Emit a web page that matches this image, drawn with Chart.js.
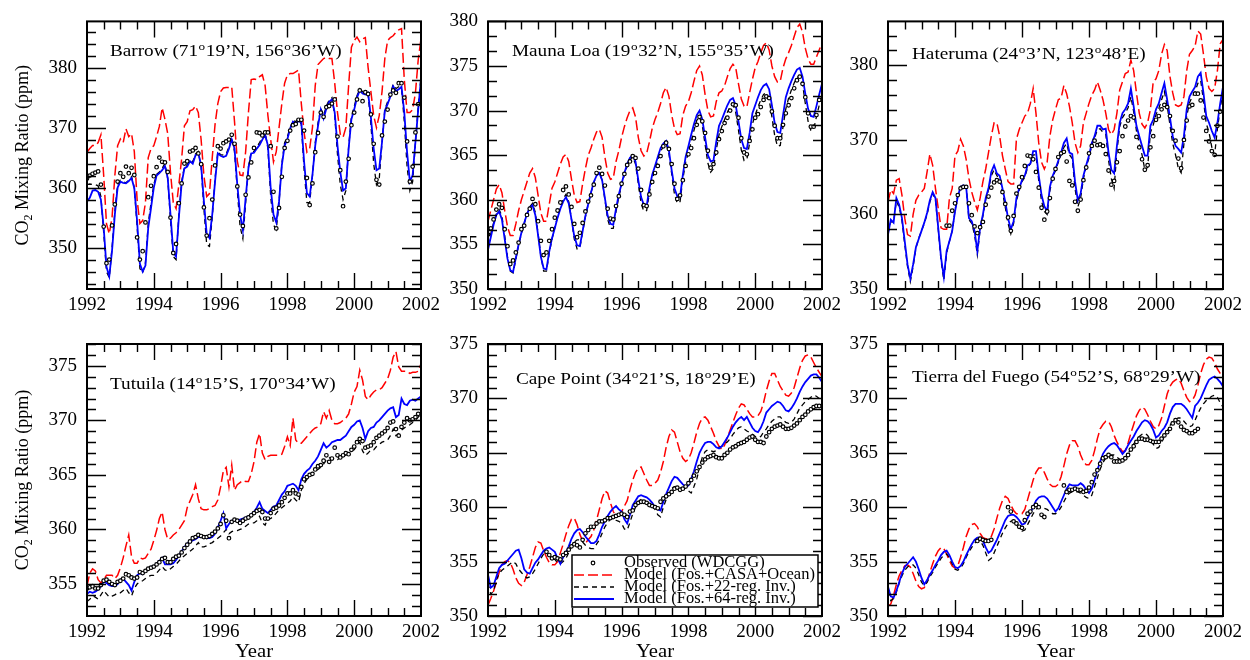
<!DOCTYPE html>
<html>
<head>
<meta charset="utf-8">
<script src="https://cdn.jsdelivr.net/npm/chart.js@4.4.1/dist/chart.umd.min.js"></script>
<style>
  html, body { margin: 0; padding: 0; background: #fff; }
  #wrap { position: relative; width: 1250px; height: 660px; overflow: hidden; }
  #wrap canvas { position: absolute; left: 0; top: 0; }
</style>
</head>
<body>
<div id="wrap">
  <canvas id="c1" width="1250" height="660"></canvas>
  <canvas id="c2" width="1250" height="660"></canvas>
  <canvas id="c3" width="1250" height="660"></canvas>
  <canvas id="c4" width="1250" height="660"></canvas>
  <canvas id="c5" width="1250" height="660"></canvas>
  <canvas id="c6" width="1250" height="660"></canvas>
</div>
<script>
// monthly values, Jan 1992 onwards (model series end with Jan 2002)
const yearTicks = [1992, 1994, 1996, 1998, 2000, 2002];
const seriesNames = ['Observed (WDCGG)', 'Model (Fos.+CASA+Ocean)', 'Model (Fos.+22-reg. Inv.)', 'Model (Fos.+64-reg. Inv.)'];
const stationNames = [
  'Barrow (71^o19’N, 156^o36’W)',
  'Mauna Loa (19^o32’N, 155^o35’W)',
  'Hateruma (24^o3’N, 123^o48’E)',
  'Tutuila (14^o15’S, 170^o34’W)',
  'Cape Point (34^o21’S, 18^o29’E)',
  'Tierra del Fuego (54^o52’S, 68^o29’W)'
];

// ---- Barrow
const brwObs = [
  361.5, 362.0, 362.3, 362.5, 362.7, 360.5, 353.5, 347.4, 348.0, 353.7, 357.2, 361.0,
  362.4, 361.8, 363.5, 362.4, 363.3, 362.1, 351.7, 348.0, 349.4, 354.2, 358.4, 360.3,
  361.9, 363.4, 365.0, 364.3, 364.2, 362.6, 355.0, 349.1, 350.6, 357.4, 360.7, 364.0,
  364.4, 366.0, 366.2, 366.6, 365.7, 363.9, 356.7, 352.0, 354.9, 358.0, 363.7, 366.9,
  366.5, 367.4, 367.7, 368.0, 368.8, 367.3, 360.2, 355.5, 353.6, 358.8, 361.7, 364.2,
  366.6, 369.2, 369.1, 368.7, 369.2, 369.2, 366.9, 359.3, 353.2, 356.6, 361.8, 366.6,
  367.8, 369.5, 370.4, 370.6, 371.3, 371.3, 369.5, 361.6, 357.1, 360.7, 365.9, 369.1,
  372.5, 371.8, 373.4, 373.6, 374.0, 374.7, 368.5, 362.9, 356.9, 361.0, 364.8, 370.4,
  372.5, 374.7, 376.2, 374.4, 375.9, 375.6, 372.2, 367.3, 361.3, 360.5, 368.7, 371.0,
  373.0, 375.5, 376.2, 375.8, 377.4, 377.4, 375.0, 367.7, 361.0, 363.5, 369.2, 373.9
];
const brwCasa = [
  365.9, 366.5, 367.0, 367.0, 367.5, 368.8, 362.0, 354.0, 352.3, 355.0, 362.0, 367.0,
  368.1, 367.5, 369.8, 368.5, 369.0, 366.0, 358.0, 354.0, 354.5, 357.5, 365.0, 366.5,
  367.0, 368.5, 370.2, 373.3, 371.4, 369.0, 362.5, 357.5, 356.5, 360.5, 364.8, 370.3,
  371.0, 372.8, 373.0, 373.6, 372.5, 368.0, 362.0, 358.5, 359.0, 365.0, 370.5, 374.0,
  376.0, 376.6, 376.7, 376.7, 376.8, 371.0, 364.4, 362.1, 362.0, 366.0, 372.5, 378.0,
  378.1, 378.0, 378.5, 378.8, 377.0, 372.0, 368.0, 364.3, 366.0, 370.0, 374.0, 377.4,
  378.8, 379.0, 379.0, 379.3, 379.6, 374.0, 369.2, 365.9, 366.5, 370.0, 377.0, 380.5,
  381.0, 381.5, 381.7, 381.5, 381.5, 377.4, 372.5, 368.9, 368.4, 370.0, 377.0, 383.4,
  384.5, 385.1, 384.3, 384.8, 385.0, 380.0, 376.0, 372.0, 370.0, 372.0, 376.0, 381.5,
  384.5, 385.0, 385.3, 385.9, 386.3, 386.5, 378.0, 372.5, 372.5, 373.0, 375.8, 381.3,
  384.8
];
const brwInv22 = [
  360.5, 360.6, 360.5, 360.5, 360.3, 358.5, 352.5, 346.0, 345.0, 350.0, 356.0, 360.5,
  361.2, 361.0, 360.8, 361.2, 361.8, 360.0, 353.5, 346.5, 345.8, 347.5, 354.0, 357.5,
  360.5, 362.2, 362.6, 363.2, 364.0, 361.5, 354.5, 348.5, 348.0, 355.5, 361.0, 363.5,
  363.8, 364.6, 364.3, 365.6, 366.0, 363.5, 356.5, 350.5, 350.2, 355.0, 361.5, 366.0,
  365.5, 365.4, 365.6, 366.8, 368.3, 366.0, 359.5, 353.5, 351.5, 357.5, 363.5, 366.0,
  366.0, 366.8, 367.5, 368.4, 369.2, 366.5, 358.5, 353.8, 353.0, 357.5, 364.0, 367.5,
  368.5, 370.0, 371.2, 371.0, 371.5, 370.5, 363.0, 357.5, 357.5, 362.0, 367.5, 370.8,
  373.2, 372.0, 373.6, 374.6, 375.0, 372.0, 365.5, 360.5, 358.0, 359.5, 366.8, 371.8,
  373.5, 375.3, 376.5, 376.0, 375.8, 375.5, 370.5, 364.0, 360.5, 361.5, 367.5, 373.0,
  374.3, 375.6, 377.2, 376.5, 376.8, 376.5, 371.0, 363.5, 359.5, 361.0, 367.5, 373.5,
  378.5
];
const brwInv64 = [
  357.7, 358.3, 359.5, 359.6, 359.3, 358.0, 353.3, 346.8, 345.2, 349.5, 355.5, 360.0,
  361.0, 360.8, 360.7, 361.1, 361.6, 359.9, 354.4, 347.3, 346.0, 347.0, 353.3, 356.6,
  360.0, 362.0, 362.4, 362.9, 363.6, 361.6, 355.5, 349.2, 348.5, 355.0, 360.7, 363.2,
  363.5, 364.4, 364.0, 365.4, 365.7, 363.7, 357.7, 352.3, 351.6, 355.5, 361.0, 365.7,
  365.3, 365.1, 365.3, 366.5, 368.0, 366.5, 360.5, 355.5, 352.9, 358.3, 363.2, 365.7,
  365.8, 366.5, 367.1, 368.0, 368.8, 367.0, 359.9, 355.5, 354.2, 357.7, 363.7, 367.0,
  368.1, 369.8, 371.0, 370.7, 371.1, 370.9, 364.3, 359.1, 358.5, 362.1, 367.0, 370.3,
  373.0, 371.5, 373.2, 374.3, 374.7, 372.5, 367.0, 362.6, 359.5, 359.9, 366.5, 371.4,
  373.0, 375.0, 376.2, 375.7, 375.5, 375.8, 371.7, 366.5, 362.9, 363.2, 367.6, 372.8,
  373.9, 375.2, 376.9, 376.1, 376.4, 376.8, 372.5, 365.9, 361.0, 362.1, 367.6, 373.0,
  378.1
];

// ---- Mauna Loa
const mloObs = [
  356.1, 356.8, 357.8, 358.9, 359.5, 359.1, 356.7, 354.8, 352.8, 353.2, 354.1, 355.2,
  356.7, 357.1, 358.3, 359.0, 360.1, 359.5, 357.6, 355.4, 353.8, 354.1, 355.4, 356.7,
  358.0, 358.8, 359.7, 361.1, 361.5, 360.6, 359.2, 357.3, 355.8, 356.3, 357.4, 358.7,
  359.8, 360.5, 361.7, 363.0, 363.6, 362.9, 361.6, 359.0, 357.9, 357.8, 359.3, 360.4,
  361.8, 362.9, 363.9, 364.3, 364.9, 364.7, 363.5, 361.1, 359.4, 359.3, 360.6, 362.0,
  363.0, 363.8, 364.9, 366.0, 366.4, 365.7, 364.0, 361.8, 360.1, 360.5, 362.2, 363.8,
  365.1, 365.8, 366.9, 368.4, 369.3, 368.8, 367.5, 365.5, 363.6, 364.0, 365.3, 366.8,
  367.7, 368.6, 369.2, 370.0, 370.7, 370.6, 369.2, 366.9, 365.3, 365.1, 366.6, 367.9,
  369.2, 369.6, 370.4, 371.2, 371.6, 371.4, 369.9, 368.3, 366.9, 366.9, 368.4, 369.7,
  370.6, 371.4, 372.5, 373.4, 373.8, 373.0, 371.5, 369.7, 368.2, 368.2, 369.5, 371.2
];
const mloCasa = [
  357.6, 358.8, 360.0, 361.2, 361.7, 360.8, 358.8, 357.0, 356.0, 356.0, 357.3, 358.8,
  360.0, 361.0, 362.0, 363.0, 363.5, 362.5, 360.5, 358.5, 357.6, 357.6, 359.5, 361.3,
  362.0, 363.0, 364.0, 364.8, 365.1, 364.3, 362.3, 360.5, 359.7, 359.8, 361.8, 363.5,
  365.0, 365.8, 366.8, 367.6, 367.9, 367.0, 364.8, 363.0, 362.3, 362.4, 364.3, 365.5,
  367.0, 368.2, 369.2, 370.0, 370.3, 369.3, 367.0, 365.5, 364.9, 365.2, 366.5, 368.0,
  369.0, 369.8, 370.8, 372.0, 372.6, 371.6, 369.5, 368.0, 367.3, 367.4, 369.5, 370.5,
  371.0, 372.0, 373.3, 374.5, 375.0, 374.0, 371.8, 370.0, 369.3, 369.4, 371.0, 372.0,
  372.2, 372.8, 373.8, 374.7, 375.2, 374.8, 373.0, 371.3, 370.5, 370.4, 372.0, 373.5,
  374.8, 375.5, 376.5, 377.3, 377.6, 376.8, 375.0, 373.8, 373.2, 373.3, 374.8, 375.8,
  376.5, 377.3, 378.3, 379.3, 379.7, 378.8, 377.0, 375.8, 375.2, 375.2, 376.0, 376.8,
  377.6
];
const mloInv22 = [
  355.0, 356.2, 357.4, 358.4, 358.9, 358.2, 356.0, 353.6, 352.0, 351.8, 353.3, 354.9,
  356.2, 357.3, 358.4, 359.2, 359.6, 358.6, 356.2, 353.7, 352.0, 352.0, 354.0, 355.6,
  356.9, 358.1, 359.2, 360.1, 360.6, 359.8, 357.8, 355.6, 354.5, 354.6, 356.4, 358.1,
  359.5, 360.8, 361.9, 362.7, 363.1, 362.2, 360.0, 357.8, 356.8, 356.8, 358.7, 360.3,
  361.6, 362.8, 363.8, 364.5, 364.8, 364.0, 361.8, 359.6, 358.7, 358.8, 360.8, 362.3,
  363.4, 364.4, 365.4, 366.0, 366.3, 365.2, 362.9, 360.6, 359.6, 359.8, 362.3, 364.2,
  365.3, 366.5, 367.8, 368.9, 369.3, 368.3, 366.2, 364.1, 363.1, 363.5, 365.6, 367.3,
  368.2, 369.0, 369.8, 370.4, 370.7, 369.8, 367.8, 365.6, 364.4, 364.5, 366.4, 368.5,
  369.5, 370.4, 371.2, 371.8, 372.0, 371.3, 369.3, 367.2, 366.0, 366.1, 368.2, 370.2,
  371.4, 372.3, 373.1, 373.7, 373.9, 373.0, 370.8, 368.8, 367.8, 367.9, 369.3, 370.6,
  371.8
];
const mloInv64 = [
  354.4, 355.8, 357.2, 358.3, 358.7, 357.8, 355.6, 353.4, 352.1, 351.9, 353.5, 355.0,
  356.3, 357.4, 358.4, 359.1, 359.4, 358.3, 356.0, 353.6, 352.3, 352.2, 354.2, 355.7,
  356.8, 358.0, 359.0, 359.8, 360.3, 359.6, 357.8, 355.9, 354.9, 354.8, 356.5, 358.2,
  359.5, 360.8, 362.0, 362.7, 363.0, 362.2, 360.2, 358.2, 357.3, 357.2, 359.0, 360.6,
  361.8, 363.0, 364.0, 364.7, 365.0, 364.3, 362.2, 360.3, 359.4, 359.3, 361.3, 362.8,
  363.8, 364.8, 365.8, 366.3, 366.6, 365.5, 363.3, 361.3, 360.4, 360.3, 362.8, 364.8,
  366.0, 367.3, 368.5, 369.5, 370.0, 369.0, 367.0, 365.0, 364.3, 364.4, 366.5, 368.3,
  369.0, 369.8, 370.6, 371.2, 371.4, 370.6, 368.8, 366.8, 365.8, 365.7, 367.5, 369.7,
  370.6, 371.5, 372.3, 372.8, 373.0, 372.4, 370.6, 368.6, 367.6, 367.5, 369.5, 371.5,
  372.5, 373.3, 374.0, 374.6, 374.8, 373.8, 371.9, 370.2, 369.4, 369.3, 370.5, 371.8,
  373.0
];

// ---- Hateruma
const hatObs = [
  null, null, null, null, null, null, null, null, null, null, null, null,
  null, null, null, null, null, null, null, null, null, 358.5, 358.5, 360.5,
  361.5, 362.6, 363.5, 363.7, 363.7, 361.5, 359.9, 358.4, 357.5, 358.3, 359.0, 361.3,
  362.4, 363.6, 364.3, 364.6, 364.4, 363.0, 361.4, 359.6, 357.8, 359.8, 362.8, 363.7,
  365.0, 366.5, 367.9, 367.8, 367.4, 365.7, 363.6, 360.9, 359.3, 360.4, 362.2, 364.8,
  366.1, 367.7, 368.2, 368.4, 367.1, 364.5, 363.9, 361.7, 360.5, 362.0, 364.6, 366.3,
  368.2, 369.2, 369.9, 369.3, 369.4, 369.2, 368.1, 365.9, 364.0, 364.5, 367.0, 368.5,
  370.5, 371.8, 372.6, 373.2, 373.0, 370.4, 369.0, 367.4, 366.0, 366.6, 369.0, 370.5,
  372.7, 373.2, 374.1, 374.7, 374.4, 373.2, 371.2, 369.9, 367.5, 366.2, 370.0, 372.6,
  374.5, 374.7, 376.2, 376.2, 375.3, 373.0, 371.2, 369.8, 368.5, 368.0, 371.9, 373.8
];
const hatCasa = [
  361.7, 363.3, 362.8, 364.6, 364.8, 362.6, 359.5, 357.3, 357.1, 360.0, 361.9, 362.6,
  363.0, 363.5, 365.7, 368.1, 366.6, 363.5, 360.8, 358.2, 358.0, 358.0, 362.2, 363.5,
  367.9, 368.5, 370.1, 369.2, 367.4, 364.8, 363.0, 361.7, 360.6, 362.2, 364.4, 366.1,
  368.3, 370.5, 372.3, 372.3, 370.5, 367.9, 366.1, 364.4, 364.1, 364.1, 370.1, 371.4,
  372.3, 373.2, 373.6, 374.9, 376.9, 373.6, 369.6, 367.0, 366.1, 367.0, 370.5, 372.7,
  374.1, 375.4, 375.6, 377.3, 376.2, 374.5, 372.3, 369.6, 368.3, 369.2, 372.3, 373.6,
  374.9, 376.0, 376.7, 377.8, 376.7, 375.4, 373.6, 371.4, 370.7, 371.4, 373.6, 376.7,
  377.8, 378.9, 379.1, 380.7, 379.3, 376.3, 373.6, 372.1, 371.6, 372.3, 374.1, 377.8,
  378.2, 379.3, 381.5, 382.8, 382.0, 378.5, 376.3, 374.7, 374.5, 374.7, 375.8, 379.3,
  381.5, 382.0, 382.6, 384.6, 384.2, 381.5, 378.5, 376.9, 376.5, 376.9, 379.3, 382.9,
  383.5
];
const hatInv22 = [
  357.5, 359.0, 359.0, 361.8, 361.0, 359.2, 356.0, 353.0, 351.0, 353.0, 355.5, 356.8,
  357.8, 358.8, 360.0, 361.7, 362.8, 362.0, 358.0, 353.8, 351.2, 354.8, 356.4, 357.8,
  360.5, 362.6, 363.8, 364.0, 363.8, 359.3, 358.8, 357.3, 354.6, 358.0, 359.8, 362.0,
  363.3, 365.2, 366.0, 365.2, 364.8, 363.0, 361.0, 358.8, 357.4, 358.8, 361.8, 363.2,
  364.4, 365.0, 366.3, 366.8, 368.0, 368.0, 364.5, 361.8, 360.4, 360.0, 363.2, 365.0,
  365.9, 367.0, 368.0, 369.0, 369.5, 368.0, 367.5, 363.5, 361.0, 362.2, 364.8, 366.4,
  367.6, 369.3, 370.2, 371.4, 371.5, 371.0, 370.8, 367.3, 364.8, 363.5, 368.5, 371.8,
  373.0, 373.6, 374.3, 375.8, 373.8, 371.2, 369.5, 368.0, 366.0, 366.3, 371.0, 372.0,
  373.4, 374.2, 375.4, 376.5, 374.6, 372.0, 369.5, 368.0, 366.2, 365.6, 369.5, 373.2,
  375.0, 375.8, 376.5, 377.6, 378.0, 375.3, 372.2, 371.0, 369.0, 368.0, 371.5, 374.2,
  376.5
];
const hatInv64 = [
  357.3, 359.3, 358.9, 362.2, 361.3, 359.5, 356.4, 353.3, 351.4, 353.3, 355.6, 356.7,
  357.8, 358.9, 360.2, 361.9, 363.0, 362.2, 358.2, 354.2, 351.6, 355.1, 356.4, 357.8,
  360.4, 362.4, 363.7, 363.9, 363.7, 359.5, 359.1, 357.8, 355.1, 358.2, 360.0, 362.2,
  363.5, 365.7, 366.6, 365.5, 365.2, 363.5, 361.7, 359.5, 358.0, 359.1, 362.2, 363.5,
  364.6, 365.2, 366.6, 366.8, 368.5, 368.5, 365.2, 362.6, 361.1, 360.4, 363.7, 365.2,
  366.1, 367.2, 368.3, 369.6, 370.2, 368.3, 368.1, 364.4, 361.9, 362.8, 365.2, 366.6,
  367.9, 369.6, 370.5, 371.9, 371.9, 371.4, 371.5, 368.3, 366.0, 365.5, 369.2, 372.3,
  373.6, 374.1, 374.9, 376.9, 374.5, 371.9, 370.5, 369.2, 367.9, 367.9, 371.9, 372.7,
  374.1, 374.9, 376.3, 377.6, 375.4, 373.0, 370.5, 369.2, 368.8, 368.3, 370.5, 374.1,
  375.8, 376.5, 377.1, 378.5, 379.0, 376.3, 373.2, 372.3, 371.2, 370.3, 372.3, 374.9,
  377.1
];

// ---- Tutuila
const smoObs = [
  354.6, 354.7, 354.8, 354.6, 354.6, 354.9, 355.3, 355.4, 355.2, 355.0, 354.9, 355.2,
  355.3, 355.5, 355.9, 355.8, 355.6, 355.5, 355.6, 356.1, 356.0, 356.2, 356.4, 356.5,
  356.6, 356.8, 357.0, 357.3, 357.4, 357.0, 357.0, 357.3, 357.5, 357.6, 357.9, 358.3,
  358.6, 358.9, 359.2, 359.3, 359.5, 359.4, 359.3, 359.3, 359.4, 359.6, 359.8, 360.1,
  360.5, 361.3, 360.8, 359.2, 360.7, 360.9, 360.8, 360.6, 360.8, 361.0, 361.1, 361.3,
  361.5, 361.7, 361.8, 361.6, 361.0, 361.0, 361.5, 361.9, 362.0, 362.2, 362.5, 362.9,
  363.3, 363.3, 363.6, 363.3, 363.2, 363.9, 364.6, 364.8, 365.0, 365.1, 365.5, 365.8,
  365.9, 366.3, 366.8, 366.2, 366.5, 367.5, 366.8, 366.6, 366.8, 367.0, 366.9, 367.3,
  367.6, 368.0, 368.3, 368.1, 367.5, 367.6, 367.7, 368.0, 368.4, 368.6, 368.8, 369.0,
  369.3, 369.8, 369.9, 369.2, 368.6, 369.4, 369.8, 370.2, 370.0, 370.1, 370.3, 370.6
];
const smoCasa = [
  354.8, 356.0, 356.4, 356.2, 355.4, 355.1, 355.4, 355.8, 355.8, 355.8, 355.5, 355.8,
  356.5, 357.4, 358.5, 359.5, 357.5, 356.9, 356.9, 357.4, 357.3, 357.4, 357.8, 358.2,
  359.0, 359.9, 361.0, 361.6, 360.0, 359.1, 359.2, 359.5, 359.7, 360.0, 360.4, 360.8,
  362.0, 362.6, 363.2, 364.1, 362.8, 361.9, 361.8, 361.8, 361.9, 362.1, 362.2, 362.7,
  363.9, 365.4, 365.7, 363.9, 365.9, 363.6, 364.1, 364.3, 364.5, 364.4, 364.4, 365.1,
  366.2, 368.0, 368.8, 367.0, 366.4, 366.7, 366.8, 366.8, 366.8, 366.8, 366.9, 367.6,
  368.5, 367.7, 370.2, 368.2, 367.9, 367.9, 368.2, 368.5, 368.8, 369.1, 369.3, 369.4,
  369.7, 370.8, 370.2, 370.9, 370.0, 369.7, 369.7, 369.8, 370.0, 370.2, 370.6, 371.5,
  372.6, 373.1, 374.6, 373.7, 372.2, 371.9, 372.3, 372.6, 372.8, 372.8, 373.0, 373.4,
  373.8, 374.6, 375.8, 376.3, 374.9, 374.5, 374.5, 374.5, 374.3, 374.4, 374.4, 374.5,
  375.2
];
const smoInv22 = [
  353.4, 353.6, 353.9, 353.8, 353.6, 354.0, 354.4, 354.1, 353.8, 353.9, 354.0, 354.2,
  354.2, 354.4, 354.6, 354.2, 353.9, 354.6, 355.0, 355.2, 355.3, 355.5, 355.7, 355.8,
  355.8, 356.0, 356.3, 356.6, 356.3, 356.2, 356.4, 356.6, 356.8, 357.1, 357.4, 357.6,
  357.8, 358.0, 358.2, 358.5, 358.8, 358.4, 358.4, 358.5, 358.7, 358.8, 359.0, 359.2,
  359.4, 359.7, 360.0, 359.6, 359.8, 359.9, 359.9, 360.0, 360.1, 360.3, 360.5, 360.6,
  360.6, 360.8, 361.2, 360.6, 360.4, 361.0, 361.0, 361.2, 361.5, 361.8, 362.0, 362.2,
  362.4, 362.6, 363.0, 362.7, 362.5, 363.6, 364.2, 364.6, 365.0, 365.2, 365.4, 365.5,
  365.7, 366.0, 366.4, 366.6, 366.4, 366.4, 366.4, 366.6, 366.7, 366.8, 367.0, 367.2,
  367.3, 367.7, 368.0, 367.2, 366.8, 367.0, 367.3, 367.3, 367.6, 367.8, 368.0, 368.1,
  368.2, 368.6, 369.2, 368.6, 368.8, 369.1, 369.3, 369.5, 369.6, 369.8, 370.0, 370.3,
  370.6
];
const smoInv64 = [
  354.1, 354.3, 354.2, 354.3, 354.5, 354.8, 355.2, 355.1, 354.9, 354.8, 354.8, 355.0,
  355.4, 355.5, 355.2, 354.9, 354.4, 355.2, 355.8, 356.0, 355.9, 356.2, 356.4, 356.6,
  356.6, 356.9, 357.1, 357.4, 356.8, 356.8, 356.8, 356.9, 357.2, 357.6, 358.0, 358.4,
  358.7, 358.9, 359.0, 359.1, 359.3, 359.3, 359.3, 359.2, 359.2, 359.3, 359.6, 360.2,
  360.8, 361.5, 360.1, 360.5, 360.8, 360.9, 360.8, 360.9, 361.0, 361.1, 361.2, 361.4,
  361.6, 362.0, 362.5, 361.9, 361.7, 361.5, 361.8, 362.1, 362.2, 362.7, 363.2, 363.5,
  364.0, 364.1, 364.2, 364.0, 363.6, 364.6, 365.1, 365.4, 365.6, 366.0, 366.3, 366.7,
  367.3, 367.9, 367.5, 367.7, 368.0, 368.1, 368.2, 368.2, 368.4, 368.6, 369.0, 369.4,
  369.6, 369.9, 370.0, 369.3, 368.3, 369.0, 369.3, 369.4, 369.8, 370.0, 370.3, 370.6,
  370.9, 371.1, 371.2, 370.3, 370.5, 372.0, 371.5, 371.4, 371.8, 371.9, 371.8, 372.0,
  372.2
];

// ---- Cape Point
const cptObs = [
  null, null, null, null, null, null, null, null, null, null, null, null,
  null, null, null, null, null, null, null, null, null, 355.9, 355.6, 355.3,
  355.4, 355.3, 355.2, 355.6, 355.8, 356.1, 356.4, 356.6, 356.5, 356.3, 357.0, 357.6,
  357.9, 358.2, 358.2, 358.5, 358.7, 358.7, 358.8, 359.0, 359.0, 359.1, 359.2, 359.3,
  359.4, 359.3, 359.1, 359.6, 359.7, 360.2, 360.4, 360.5, 360.5, 360.4, 360.2, 360.1,
  360.0, 359.9, 360.5, 360.8, 361.0, 361.2, 361.4, 361.7, 361.8, 361.6, 361.7, 361.9,
  362.2, 362.5, 362.9, 363.3, 363.7, 364.1, 364.4, 364.6, 364.7, 364.8, 364.6, 364.5,
  364.5, 364.8, 365.0, 365.3, 365.5, 365.6, 365.8, 365.9, 366.0, 366.2, 366.4, 366.5,
  366.2, 366.0, 366.0, 365.9, 366.5, 366.9, 367.2, 367.4, 367.5, 367.6, 367.4, 367.2,
  367.2, 367.3, 367.5, 367.7, 368.0, 368.3, 368.5, 368.8, 369.0, 369.2, 369.3, 369.3
];
const cptCasa = [
  351.0, 351.6, 352.3, 353.1, 354.0, 354.7, 355.0, 355.1, 354.9, 354.3, 353.5, 353.0,
  352.8, 353.1, 353.8, 354.5, 355.4, 356.3, 356.8, 356.7, 356.0, 355.4, 354.9, 354.7,
  354.7, 355.0, 355.8, 356.6, 357.5, 358.3, 358.9, 359.0, 358.4, 357.5, 356.9, 356.7,
  357.0, 357.3, 357.9, 358.8, 359.8, 360.8, 361.5, 361.3, 360.4, 359.6, 359.2, 359.2,
  359.6, 360.1, 360.6, 361.6, 362.5, 363.2, 363.6, 363.7, 363.1, 362.5, 362.0, 362.0,
  362.2, 362.5, 363.2, 364.2, 365.5, 366.5, 367.1, 366.9, 366.0, 365.1, 364.5, 364.2,
  364.4, 365.0, 365.9, 366.9, 367.7, 368.2, 368.3, 368.0, 367.4, 366.8, 366.1, 365.6,
  365.3, 365.7, 366.4, 367.1, 367.8, 368.5, 369.1, 369.5, 369.4, 369.0, 368.6, 368.3,
  368.3, 368.4, 368.8, 369.6, 370.7, 371.6, 372.3, 372.3, 371.7, 371.1, 370.7, 370.3,
  370.2, 370.5, 371.0, 371.9, 372.8, 373.5, 373.9, 374.0, 373.8, 373.3, 372.8, 372.4,
  372.0
];
const cptInv22 = [
  353.0, 352.0, 352.3, 353.3, 353.9, 354.2, 354.4, 354.6, 354.8, 355.0, 354.8, 354.3,
  354.0, 353.7, 353.5, 353.6, 353.9, 354.3, 354.8, 355.3, 355.7, 355.9, 355.6, 355.3,
  355.2, 354.9, 354.8, 355.0, 355.3, 355.8, 356.4, 356.8, 357.0, 357.0, 356.8, 356.5,
  356.3, 356.2, 356.2, 356.6, 357.0, 357.6, 358.2, 358.6, 358.9, 359.0, 358.8, 358.7,
  358.5, 358.0, 357.9, 358.6, 359.4, 360.0, 360.5, 360.7, 360.6, 360.5, 360.3, 360.1,
  359.8, 359.3, 359.1, 360.0, 360.7, 361.2, 361.7, 361.9, 361.9, 361.8, 361.7, 361.6,
  361.5, 361.3, 361.9, 362.6, 363.6, 364.6, 365.1, 365.3, 365.2, 365.1, 365.2, 365.5,
  365.6, 365.8, 366.0, 366.3, 366.7, 367.0, 367.3, 367.4, 367.2, 367.0, 366.9, 366.7,
  366.5, 366.4, 366.5, 366.9, 367.2, 367.6, 367.9, 368.1, 368.3, 368.3, 368.0, 367.8,
  367.7, 367.8, 368.1, 368.6, 369.1, 369.4, 369.7, 369.9, 370.1, 370.3, 370.2, 370.0,
  369.9
];
const cptInv64 = [
  353.8, 352.6, 352.8, 353.6, 354.4, 354.7, 354.8, 355.1, 355.4, 355.7, 356.0, 356.1,
  355.3, 354.3, 354.0, 353.9, 354.4, 354.9, 355.2, 355.6, 356.0, 356.2, 356.3, 356.1,
  355.9, 355.3, 354.8, 355.4, 355.8, 356.4, 357.1, 357.6, 357.9, 358.0, 357.7, 357.3,
  357.0, 356.7, 356.7, 356.9, 357.5, 358.2, 358.7, 359.2, 359.6, 359.9, 360.1, 359.8,
  359.6, 358.9, 358.5, 359.3, 360.2, 360.6, 361.0, 361.1, 361.0, 360.9, 360.7, 360.4,
  360.0, 359.8, 359.7, 360.5, 361.2, 361.8, 362.4, 362.8, 362.7, 362.4, 362.1, 361.9,
  362.0, 362.6, 363.3, 364.2, 365.0, 365.5, 365.9, 366.0, 366.0, 365.8, 365.5, 365.4,
  365.6, 366.0, 366.4, 366.9, 367.4, 367.8, 368.1, 368.3, 368.0, 368.3, 367.8, 367.3,
  367.0, 366.9, 367.3, 367.9, 368.7, 369.0, 369.3, 369.5, 369.7, 369.6, 369.3, 368.9,
  368.8, 369.1, 369.5, 370.0, 370.6, 371.1, 371.5, 371.8, 372.1, 372.2, 372.2, 371.9,
  371.5
];

// ---- Tierra del Fuego
const tdfObs = [
  null, null, null, null, null, null, null, null, null, null, null, null,
  null, null, null, null, null, null, null, null, null, null, null, null,
  null, null, null, null, null, null, null, null, 356.9, 357.1, 357.0, 356.9,
  356.9, 357.0, null, null, null, null, null, 360.0, 359.6, 358.7, 358.5, 358.2,
  358.1, 358.8, 359.4, 359.6, 360.0, 360.2, 360.0, 359.3, 359.1, null, null, null,
  null, null, null, 362.0, 361.4, 361.6, 361.6, 361.7, 361.6, 361.6, 361.4, 361.5,
  361.8, 362.3, 363.0, 363.4, 364.0, 364.5, 364.6, 364.8, 364.6, 364.2, 364.2, 364.2,
  364.3, 364.5, 364.8, 365.3, 365.6, 366.0, 366.3, 366.3, 366.2, 366.2, 366.1, 366.0,
  366.0, 366.0, 366.3, 366.6, 366.9, 367.2, 367.7, 368.0, 367.8, 367.4, 367.1, 367.0,
  366.8, 366.8, 367.0, 367.2, null, null, null, null, null, null, null, null
];
const tdfCasa = [
  350.9, 351.1, 351.9, 352.9, 353.7, 354.2, 354.6, 354.7, 354.5, 353.9, 353.2, 352.7,
  352.5, 352.6, 353.2, 354.0, 354.8, 355.5, 356.0, 356.3, 356.2, 355.7, 355.1, 354.6,
  354.4, 354.6, 355.4, 356.3, 357.3, 358.0, 358.4, 358.5, 358.2, 357.6, 357.2, 357.1,
  357.1, 357.3, 358.0, 359.0, 359.9, 360.6, 361.0, 360.8, 360.2, 359.7, 359.4, 359.4,
  359.4, 359.8, 360.7, 361.6, 362.5, 363.2, 363.6, 363.6, 363.2, 362.6, 362.1, 361.9,
  361.9, 362.1, 362.8, 363.8, 364.9, 365.7, 366.1, 366.1, 365.6, 364.8, 364.2, 363.9,
  363.9, 364.3, 365.2, 366.3, 367.2, 367.6, 367.9, 367.9, 367.4, 366.6, 366.0, 365.5,
  365.1, 365.2, 365.9, 366.8, 367.6, 368.4, 368.9, 369.2, 369.0, 368.5, 367.9, 367.4,
  367.2, 367.5, 368.2, 369.3, 370.4, 371.1, 371.5, 371.7, 371.8, 371.4, 370.7, 370.1,
  369.7, 369.8, 370.3, 371.2, 372.3, 373.1, 373.6, 373.8, 373.7, 373.3, 372.7, 372.3,
  372.0
];
const tdfInv22 = [
  352.3, 351.4, 351.6, 352.2, 353.0, 353.7, 354.2, 354.5, 354.7, 354.7, 354.4, 353.8,
  353.1, 352.8, 353.1, 353.6, 354.0, 354.5, 354.9, 355.3, 355.6, 355.7, 355.4, 354.8,
  354.3, 354.2, 354.4, 354.8, 355.4, 355.9, 356.3, 356.7, 356.9, 356.9, 356.5, 355.8,
  355.1, 355.3, 355.8, 356.4, 357.0, 357.6, 358.1, 358.5, 358.7, 358.8, 358.6, 358.2,
  357.8, 357.9, 358.4, 358.9, 359.4, 359.8, 360.0, 360.0, 359.9, 359.8, 359.6, 359.4,
  359.4, 359.6, 360.0, 360.5, 361.0, 361.3, 361.4, 361.4, 361.4, 361.3, 361.1, 360.9,
  360.8, 361.1, 361.9, 362.7, 363.5, 364.1, 364.5, 364.7, 364.8, 364.8, 364.6, 364.4,
  364.2, 364.4, 364.9, 365.4, 365.8, 366.2, 366.5, 366.7, 366.8, 366.6, 366.2, 365.8,
  365.4, 365.5, 366.0, 366.5, 367.0, 367.5, 367.9, 368.1, 368.2, 368.2, 367.9, 367.6,
  367.4, 367.5, 368.0, 368.6, 369.1, 369.5, 369.8, 370.0, 370.2, 370.3, 370.1, 369.6,
  369.2
];
const tdfInv64 = [
  352.7, 351.8, 351.7, 352.3, 353.1, 353.9, 354.5, 354.8, 355.1, 355.4, 355.0, 354.3,
  353.5, 352.9, 353.3, 353.8, 354.2, 354.7, 355.1, 355.6, 355.9, 356.0, 355.6, 355.0,
  354.5, 354.4, 354.6, 355.0, 355.6, 356.1, 356.6, 357.0, 357.2, 357.2, 356.9, 356.3,
  355.8, 356.0, 356.5, 357.0, 357.6, 358.2, 358.8, 359.2, 359.3, 359.3, 359.1, 358.8,
  358.4, 358.5, 359.0, 359.5, 360.0, 360.6, 360.9, 361.0, 361.0, 360.8, 360.4, 360.0,
  359.6, 359.9, 360.5, 361.1, 361.7, 362.1, 362.0, 362.0, 362.0, 362.2, 362.0, 361.6,
  361.3, 361.7, 362.5, 363.4, 364.2, 364.9, 365.3, 365.6, 365.8, 365.9, 365.7, 365.3,
  364.9, 365.2, 365.7, 366.1, 366.5, 367.0, 367.4, 367.8, 368.0, 367.9, 367.6, 367.1,
  366.4, 366.6, 367.0, 367.3, 367.8, 368.6, 369.2, 369.5, 369.5, 369.5, 369.3, 369.0,
  368.6, 368.2, 369.3, 369.6, 370.0, 370.6, 371.2, 371.7, 371.9, 372.0, 371.8, 371.5,
  371.1
];

// ---- panel layout (plot-area boxes in page pixels)
const panels = [
  {id: 'c1', name: stationNames[0], obs: brwObs, casa: brwCasa, inv22: brwInv22, inv64: brwInv64,
   box: [87, 17, 421, 289], y: [343.1, 387.7, 10, 2], lab: [23, 35], yTitle: true},
  {id: 'c2', name: stationNames[1], obs: mloObs, casa: mloCasa, inv22: mloInv22, inv64: mloInv64,
   box: [488, 17, 822, 289], y: [350, 380, 5, 5 / 3], lab: [24, 35]},
  {id: 'c3', name: stationNames[2], obs: hatObs, casa: hatCasa, inv22: hatInv22, inv64: hatInv64,
   box: [888, 17, 1223, 289], y: [350, 385.9, 10, 2], lab: [24, 38]},
  {id: 'c4', name: stationNames[3], obs: smoObs, casa: smoCasa, inv22: smoInv22, inv64: smoInv64,
   box: [87, 344, 421, 616], y: [352.07, 377, 5, 1], lab: [23, 45], yTitle: true, xTitle: true},
  {id: 'c5', name: stationNames[4], obs: cptObs, casa: cptCasa, inv22: cptInv22, inv64: cptInv64,
   box: [488, 344, 822, 616], y: [350, 375, 5, 1], lab: [28, 40], xTitle: true, legend: true},
  {id: 'c6', name: stationNames[5], obs: tdfObs, casa: tdfCasa, inv22: tdfInv22, inv64: tdfInv64,
   box: [888, 344, 1223, 616], y: [350, 375, 5, 1], lab: [24, 38], xTitle: true}
];

const SERIF = '"Liberation Serif", "Times New Roman", serif';
Chart.defaults.font.family = SERIF;
Chart.defaults.color = '#000';

function toPts(arr) {
  return arr.map((v, i) => ({x: 1992 + i / 12, y: v})).filter(p => p.y !== null);
}

// text with a raised small "o" wherever ^o appears
function drawStation(ctx, str, x, y, size, sx) {
  ctx.save();
  ctx.translate(x, y);
  ctx.scale(sx, 1);
  ctx.fillStyle = '#000';
  ctx.textBaseline = 'alphabetic';
  ctx.textAlign = 'left';
  let cx = 0;
  const parts = str.split('^o');
  parts.forEach((seg, i) => {
    ctx.font = size + 'px ' + SERIF;
    ctx.fillText(seg, cx, 0);
    cx += ctx.measureText(seg).width;
    if (i < parts.length - 1) {
      ctx.font = Math.round(size * 0.66) + 'px ' + SERIF;
      ctx.fillText('o', cx + 0.5, -size * 0.4);
      cx += ctx.measureText('o').width + 1;
    }
  });
  ctx.restore();
}

function makeDecor(p) {
  return {
    id: 'decor',
    afterDraw(chart) {
      const ctx = chart.ctx, a = chart.chartArea;
      const xs = chart.scales.x, ys = chart.scales.y;
      ctx.save();
      ctx.strokeStyle = '#000';
      ctx.lineWidth = 1.4;
      ctx.beginPath();
      // x ticks, inward, top and bottom
      for (let k = 1; k < 20; k++) {
        const v = 1992 + k * 0.5;
        const px = Math.round(xs.getPixelForValue(v)) + 0.5;
        const len = (k % 4 === 0) ? 16 : 8;
        ctx.moveTo(px, a.bottom); ctx.lineTo(px, a.bottom - len);
        ctx.moveTo(px, a.top); ctx.lineTo(px, a.top + len);
      }
      // y ticks, inward, left and right
      const [ymin, ymax, major, minor] = p.y;
      const k0 = Math.ceil(ymin / minor - 1e-6);
      for (let k = k0; k * minor <= ymax + 1e-6; k++) {
        const v = k * minor;
        const isMajor = Math.abs(v / major - Math.round(v / major)) < 1e-6;
        const py = Math.round(ys.getPixelForValue(v)) + 0.5;
        const len = isMajor ? 19 : 9;
        ctx.moveTo(a.left, py); ctx.lineTo(a.left + len, py);
        ctx.moveTo(a.right, py); ctx.lineTo(a.right - len, py);
      }
      ctx.stroke();
      // frame
      ctx.lineWidth = 2;
      ctx.strokeRect(a.left, a.top, a.right - a.left, a.bottom - a.top);

      drawStation(ctx, p.name, a.left + p.lab[0], a.top + p.lab[1], 16, 1.2);

      if (p.yTitle) {
        ctx.save();
        ctx.translate(22, (a.top + a.bottom) / 2);
        ctx.rotate(-Math.PI / 2);
        ctx.fillStyle = '#000';
        ctx.textBaseline = 'alphabetic';
        ctx.font = '18px ' + SERIF;
        const w1 = ctx.measureText('CO').width;
        const w3 = ctx.measureText(' Mixing Ratio (ppm)').width;
        ctx.font = '12px ' + SERIF;
        const w2 = ctx.measureText('2').width;
        let cx = -(w1 + w2 + w3) / 2;
        ctx.font = '18px ' + SERIF;
        ctx.fillText('CO', cx, 6);
        ctx.font = '12px ' + SERIF;
        ctx.fillText('2', cx + w1, 10);
        ctx.font = '18px ' + SERIF;
        ctx.fillText(' Mixing Ratio (ppm)', cx + w1 + w2, 6);
        ctx.restore();
      }
      if (p.xTitle) {
        ctx.save();
        ctx.translate((a.left + a.right) / 2, a.bottom + 36);
        ctx.scale(1.15, 1);
        ctx.fillStyle = '#000';
        ctx.textAlign = 'center';
        ctx.textBaseline = 'middle';
        ctx.font = '18px ' + SERIF;
        ctx.fillText('Year', 0, 0);
        ctx.restore();
      }
      if (p.legend) {
        const lx = 572, ly = 555, lw = 246, lh = 52;
        ctx.fillStyle = '#fff';
        ctx.fillRect(lx, ly, lw, lh);
        ctx.lineWidth = 1.5;
        ctx.strokeStyle = '#000';
        ctx.strokeRect(lx, ly, lw, lh);
        const order = [0, 3, 2, 1];
        const rows = [563, 575, 587, 599];
        order.forEach((di, r) => {
          const ds = chart.data.datasets[di];
          const yy = rows[r];
          if (di === 0) {
            ctx.beginPath();
            ctx.lineWidth = 1.2;
            ctx.strokeStyle = '#000';
            ctx.arc(593, yy, 1.8, 0, Math.PI * 2);
            ctx.stroke();
          } else {
            ctx.beginPath();
            ctx.lineWidth = ds.borderWidth;
            ctx.strokeStyle = ds.borderColor;
            ctx.setLineDash(ds.borderDash || []);
            ctx.moveTo(574, yy); ctx.lineTo(614, yy);
            ctx.stroke();
            ctx.setLineDash([]);
          }
          ctx.fillStyle = '#000';
          ctx.font = '16.5px ' + SERIF;
          ctx.textBaseline = 'middle';
          ctx.textAlign = 'left';
          ctx.fillText(ds.label, 624, yy);
        });
      }
      ctx.restore();
    }
  };
}

const Y_W = 60, X_H = 40;

panels.forEach(p => {
  const [l, t, r, b] = p.box;
  new Chart(document.getElementById(p.id), {
    type: 'line',
    data: {
      datasets: [
        {label: seriesNames[0], data: toPts(p.obs), showLine: false,
         pointRadius: 1.8, pointBorderWidth: 1.2, pointBorderColor: '#000',
         pointBackgroundColor: '#fff', borderColor: '#000'},
        {label: seriesNames[3], data: toPts(p.inv64), borderColor: '#0000ff',
         borderWidth: 1.8, pointRadius: 0},
        {label: seriesNames[2], data: toPts(p.inv22), borderColor: '#000000',
         borderWidth: 1.3, borderDash: [5, 4], pointRadius: 0},
        {label: seriesNames[1], data: toPts(p.casa), borderColor: '#ff0000',
         borderWidth: 1.5, borderDash: [10, 4], pointRadius: 0}
      ]
    },
    options: {
      responsive: false,
      devicePixelRatio: 1,
      animation: false,
      layout: {padding: {left: l - Y_W, top: t, right: 1250 - r, bottom: 660 - b - X_H}},
      plugins: {legend: {display: false}, tooltip: {enabled: false}, title: {display: false}},
      scales: {
        x: {
          type: 'linear', min: 1992, max: 2002,
          afterFit: s => { s.height = X_H; },
          grid: {display: false, drawTicks: false},
          border: {display: false},
          afterBuildTicks: s => { s.ticks = yearTicks.map(v => ({value: v})); },
          ticks: {autoSkip: false, maxRotation: 0, padding: 5,
                  font: {size: 19}, callback: v => String(v)}
        },
        y: {
          type: 'linear', min: p.y[0], max: p.y[1],
          afterFit: s => { s.width = Y_W; },
          grid: {display: false, drawTicks: false},
          border: {display: false},
          ticks: {stepSize: p.y[2], includeBounds: false, padding: 10,
                  font: {size: 19}, callback: v => String(v)}
        }
      }
    },
    plugins: [makeDecor(p)]
  });
});
</script>
</body>
</html>
